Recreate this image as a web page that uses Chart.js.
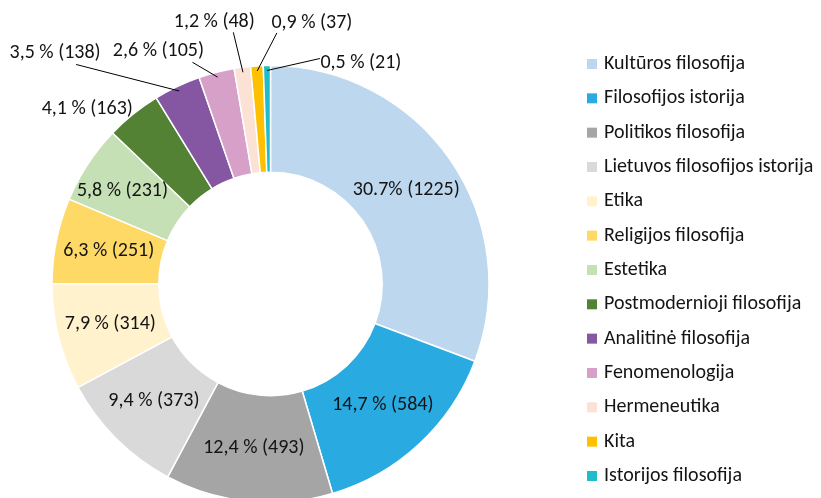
<!DOCTYPE html>
<html lang="lt">
<head>
  <meta charset="UTF-8" />
  <title>Filosofijos sritys</title>
  <script src="https://cdn.jsdelivr.net/npm/chart.js"></script>
  <style>
    html, body { margin: 0; padding: 0; background: #fff; overflow: hidden; }
    #wrap { width: 821px; height: 498px; }
  </style>
</head>
<body>
  <div id="wrap"><canvas id="grafikas" width="821" height="498"></canvas></div>

<script>
// duomenys
const kategorijos = ['Kultūros filosofija', 'Filosofijos istorija', 'Politikos filosofija', 'Lietuvos filosofijos istorija',
  'Etika', 'Religijos filosofija', 'Estetika', 'Postmodernioji filosofija', 'Analitinė filosofija',
  'Fenomenologija', 'Hermeneutika', 'Kita', 'Istorijos filosofija'];
const kiekiai = [1225, 584, 493, 373, 314, 251, 231, 163, 138, 105, 48, 37, 21];
const procentai = ['30.7%', '14,7 %', '12,4 %', '9,4 %', '7,9 %', '6,3 %', '5,8 %', '4,1 %', '3,5 %', '2,6 %', '1,2 %', '0,9 %', '0,5 %'];
const spalvos = ['#BDD7EE', '#29ABE2', '#A5A5A5', '#D9D9D9', '#FFF2CC', '#FFD966', '#C5E0B4',
  '#548235', '#8557A3', '#D6A0C9', '#FCE1D5', '#FFC000', '#1FBCCB'];

const SRIFTAS = 'Carlito, Calibri, Lato, sans-serif';
const TEKSTAS = '#141414';

// vidinių etikečių pataisos
const vidines = { 6: { dx: -10, dy: -2 } };
// etikečių vieta už žiedo: poslinkis nuo lanko vidurio, linijos pradžia nuo etiketės centro
const isorines = {
  7:  { dx: -46, dy: -5 },
  8:  { dx: -122, dy: -33, lx: 21, ly: 11 },
  9:  { dx: -58, dy: -21, lx: 34, ly: 11 },
  10: { dx: -28, dy: -45, lx: 19, ly: 10 },
  11: { dx: 55, dy: -43, lx: -35, ly: 10 },
  12: { dx: 94, dy: -3, lx: -41, ly: -4 }
};

const etiketes = {
  id: 'etiketes',
  afterDatasetsDraw(chart) {
    const ctx = chart.ctx;
    const arcs = chart.getDatasetMeta(0).data;
    ctx.save();
    ctx.font = '20px ' + SRIFTAS;
    ctx.fillStyle = TEKSTAS;
    ctx.textAlign = 'center';
    ctx.textBaseline = 'middle';
    arcs.forEach((arc, i) => {
      const p = arc.getProps(['x', 'y', 'startAngle', 'endAngle', 'innerRadius', 'outerRadius'], true);
      const a = (p.startAngle + p.endAngle) / 2;
      const txt = procentai[i] + ' (' + kiekiai[i] + ')';
      const o = isorines[i];
      if (!o) {
        const r = (p.innerRadius + p.outerRadius) / 2;
        const v = vidines[i] || { dx: 0, dy: 0 };
        ctx.fillText(txt, p.x + Math.cos(a) * r + v.dx, p.y + Math.sin(a) * r + v.dy);
        return;
      }
      const ox = p.x + Math.cos(a) * p.outerRadius, oy = p.y + Math.sin(a) * p.outerRadius;
      const cx = ox + o.dx, cy = oy + o.dy;
      if (o.lx !== undefined) {
        const r2 = p.outerRadius - 5;
        ctx.beginPath();
        ctx.strokeStyle = '#000';
        ctx.lineWidth = 1;
        ctx.moveTo(cx + o.lx, cy + o.ly);
        ctx.lineTo(p.x + Math.cos(a) * r2, p.y + Math.sin(a) * r2);
        ctx.stroke();
      }
      ctx.fillText(txt, cx, cy);
    });
    ctx.restore();
  }
};

const legenda = {
  id: 'legenda',
  afterDraw(chart, args, opts) {
    const ctx = chart.ctx;
    const ds = chart.data.datasets[0];
    ctx.save();
    ctx.font = '20px ' + SRIFTAS;
    ctx.textBaseline = 'middle';
    chart.data.labels.forEach((lbl, i) => {
      const y = opts.y + i * opts.step;
      ctx.fillStyle = ds.backgroundColor[i];
      ctx.fillRect(opts.x, y - 5, 10, 10);
      ctx.fillStyle = TEKSTAS;
      ctx.fillText(lbl, opts.x + 17, y);
    });
    ctx.restore();
  }
};

new Chart(document.getElementById('grafikas'), {
  type: 'doughnut',
  data: {
    labels: kategorijos,
    datasets: [{
      data: kiekiai,
      backgroundColor: spalvos,
      borderColor: '#ffffff',
      borderWidth: 1.5,
      hoverOffset: 0,
      offset: 0,
      clip: false
    }]
  },
  options: {
    responsive: false,
    animation: false,
    radius: 218.5,
    cutout: 109,
    layout: { padding: { left: 0, right: 280, top: 70, bottom: 0 } },
    plugins: {
      legend: { display: false },
      tooltip: { enabled: false },
      legenda: { x: 587, y: 64, step: 34.33 }
    }
  },
  plugins: [etiketes, legenda]
});
</script>
</body>
</html>
